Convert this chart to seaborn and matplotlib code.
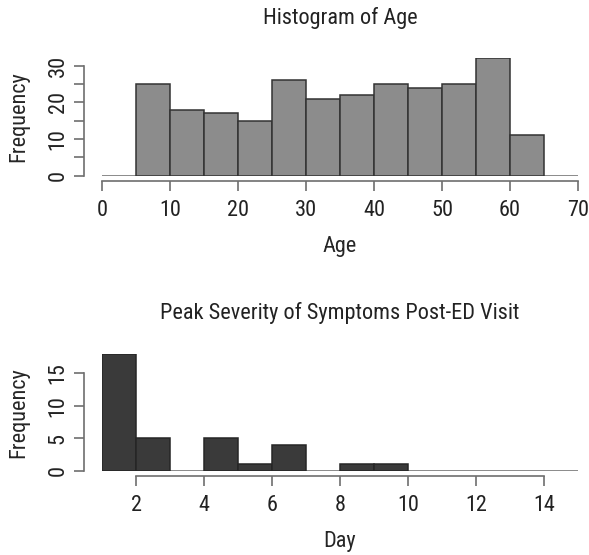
import matplotlib
matplotlib.use("Agg")
import matplotlib.pyplot as plt
from matplotlib import font_manager
import numpy as np
import seaborn as sns

# ---- data ----
age_edges = [5, 10, 15, 20, 25, 30, 35, 40, 45, 50, 55, 60, 65]
age_counts = [25, 18, 17, 15, 26, 21, 22, 25, 24, 25, 32, 11]
age_xticks = [0, 10, 20, 30, 40, 50, 60, 70]
age_yticks = [0, 5, 10, 15, 20, 25, 30]
age_ylabels = ["0", "", "10", "", "20", "", "30"]

day_edges = [1, 2, 3, 4, 5, 6, 7, 8, 9, 10]
day_counts = [18, 5, 0, 5, 1, 4, 0, 1, 1]
day_xticks = [2, 4, 6, 8, 10, 12, 14]
day_yticks = [0, 5, 10, 15]

sns.set_style("white")
names = {f.name for f in font_manager.fontManager.ttflist}
fam = "Liberation Sans"
for cand in ("Liberation Sans Narrow", "Roboto Condensed", "Open Sans Condensed",
             "DejaVu Sans Condensed", "Noto Sans Condensed"):
    if cand in names:
        fam = cand
        break
plt.rcParams["font.family"] = [fam, "DejaVu Sans"]
plt.rcParams["font.stretch"] = "condensed"
plt.rcParams["text.color"] = "#222222"

W, H = 589, 555
fig = plt.figure(figsize=(W / 100, H / 100), dpi=100)

def frac(left, top, right, bottom):
    return [left / W, 1 - bottom / H, (right - left) / W, (bottom - top) / H]

ax1 = fig.add_axes(frac(102, 58.4, 578, 175.7))
ax2 = fig.add_axes(frac(102, 353.9, 578, 470.7))

def centers(edges):
    e = np.asarray(edges, dtype=float)
    return (e[:-1] + e[1:]) / 2

sns.histplot(x=centers(age_edges), weights=age_counts, bins=age_edges, ax=ax1,
             color="#8c8c8c", edgecolor="#333333", linewidth=1.1, alpha=1)
sns.histplot(x=centers(day_edges), weights=day_counts, bins=day_edges, ax=ax2,
             color="#3a3a3a", edgecolor="#262626", linewidth=1.1, alpha=1)

for ax in (ax1, ax2):
    for p in ax.patches:
        if p.get_height() == 0:
            p.set_visible(False)

def style(ax, xlim, ylim, xticks, yticks, ylabels, title, xlabel):
    ax.set_xlim(*xlim)
    ax.set_ylim(*ylim)
    ax.axhline(0, color="#8a8a8a", lw=1.4, zorder=0)
    ax.set_xticks(xticks)
    ax.set_yticks(yticks)
    ax.set_yticklabels(ylabels if ylabels else [str(t) for t in yticks])
    for s in ("top", "right"):
        ax.spines[s].set_visible(False)
    ax.spines["left"].set_position(("outward", 18 * 72 / 100))
    ax.spines["bottom"].set_position(("outward", 5 * 72 / 100))
    ax.spines["left"].set_bounds(yticks[0], yticks[-1])
    ax.spines["bottom"].set_bounds(xticks[0], xticks[-1])
    for s in ("left", "bottom"):
        ax.spines[s].set_color("#6e6e6e")
        ax.spines[s].set_linewidth(1.2)
    ax.tick_params(axis="both", direction="out", length=7, width=1.2,
                   color="#6e6e6e", labelsize=16, labelcolor="#222222", pad=7)
    ax.tick_params(axis="y", left=True, labelrotation=90, pad=4)
    ax.tick_params(axis="x", bottom=True)
    for lab in ax.get_yticklabels():
        lab.set_va("center")
    ax.set_title(title, fontsize=16, pad=25, color="#222222")
    ax.set_xlabel(xlabel, fontsize=16, labelpad=11)
    ax.set_ylabel("Frequency", fontsize=16, labelpad=13)
    ax.grid(False)

style(ax1, (0, 70), (0, 32), age_xticks, age_yticks, age_ylabels,
      "Histogram of Age", "Age")
style(ax2, (1, 15), (0, 18), day_xticks, day_yticks, None,
      "Peak Severity of Symptoms Post-ED Visit", "Day")

fig.savefig("out.png", dpi=100)
